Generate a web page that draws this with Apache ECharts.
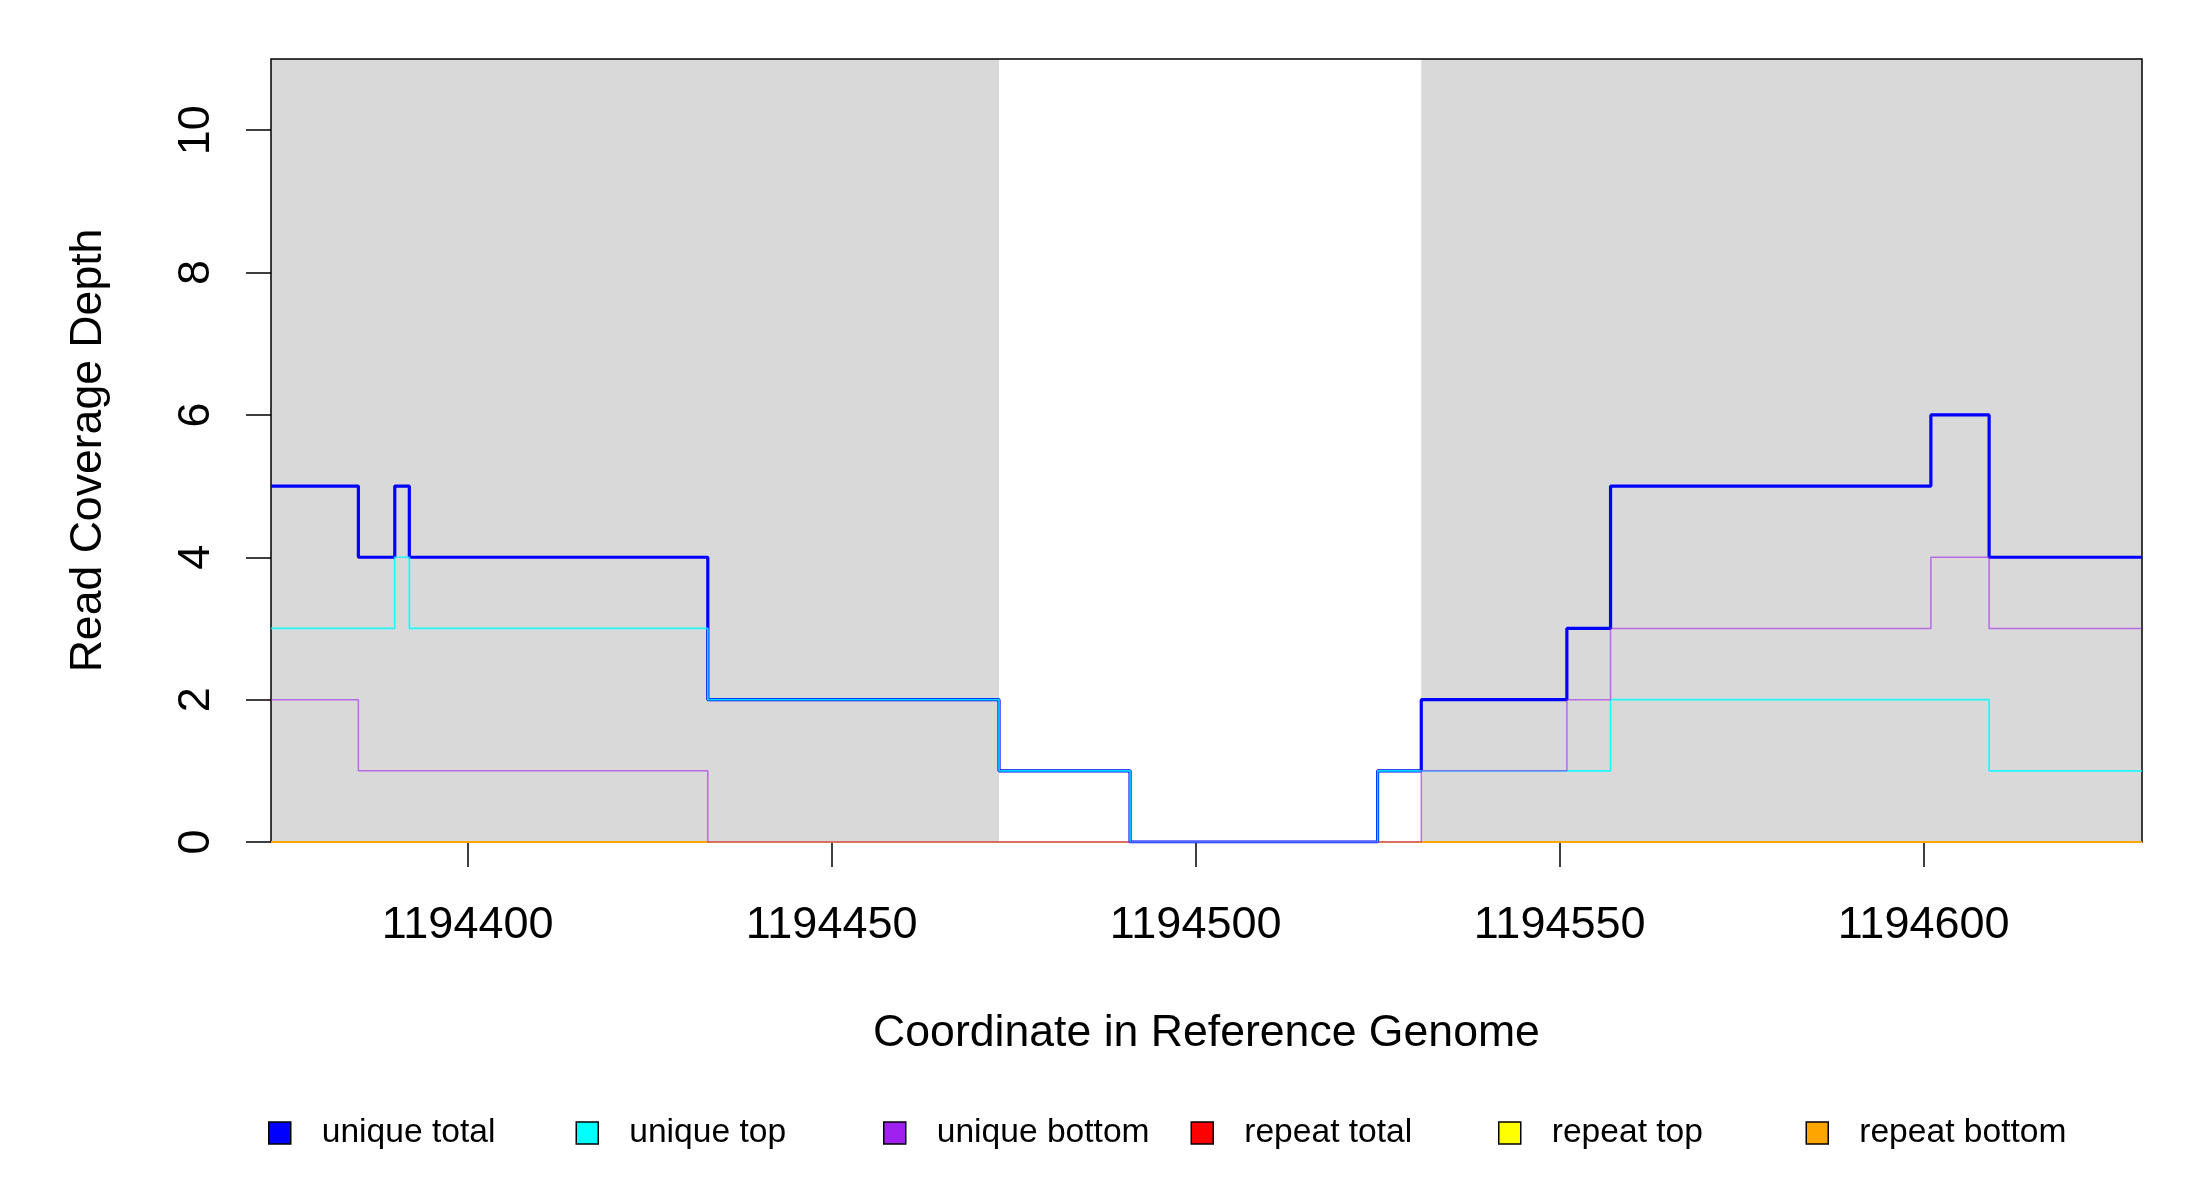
<!DOCTYPE html>
<html>
<head>
<meta charset="utf-8">
<script src="https://cdn.jsdelivr.net/npm/echarts@6/dist/echarts.min.js"></script>
<style>
html,body{margin:0;padding:0;background:#fff;}
#chart{width:2200px;height:1200px;}
</style>
</head>
<body>
<div id="chart"></div>
<script>
// ---- data ----
const xMin = 1194373;
const xMax = 1194630;
const exonStarts = [1194373, 1194531];
const exonEnds = [1194473, 1194630];
// segment start coordinates (last entry = end of last segment)
const breaks = [1194373, 1194385, 1194390, 1194392, 1194433, 1194473, 1194491, 1194525, 1194531, 1194551, 1194557, 1194601, 1194609, 1194630];
const uniqueTotal  = [5, 4, 5, 4, 2, 1, 0, 1, 2, 3, 5, 6, 4];
const uniqueTop    = [3, 3, 4, 3, 2, 1, 0, 1, 1, 1, 2, 2, 1];
const uniqueBottom = [2, 1, 1, 1, 0, 0, 0, 0, 1, 2, 3, 4, 3];
const repeatTotal  = [0, 0, 0, 0, 0, 0, 0, 0, 0, 0, 0, 0, 0];
const repeatTop    = [0, 0, 0, 0, 0, 0, 0, 0, 0, 0, 0, 0, 0];
const repeatBottom = [0, 0, 0, 0, 0, 0, 0, 0, 0, 0, 0, 0, 0];
const xTicks = [1194400, 1194450, 1194500, 1194550, 1194600];
const yTicks = [0, 2, 4, 6, 8, 10];
const seriesNames = ['unique total', 'unique top', 'unique bottom', 'repeat total', 'repeat top', 'repeat bottom'];

function stepData(vals) {
  return breaks.map((b, i) => [b, vals[Math.min(i, vals.length - 1)]]);
}

const FONT = 'Liberation Sans, Arial, sans-serif';
const chart = echarts.init(document.getElementById('chart'), null, {renderer: 'canvas'});

function lineSeries(name, vals, color, width, opacity) {
  return {
    name: name, type: 'line', step: 'end', z: 5,
    data: stepData(vals), symbol: 'none', animation: false,
    itemStyle: {color: color},
    lineStyle: {color: color, width: width, opacity: opacity},
    emphasis: {disabled: true}
  };
}

const legendColors = ['#0000FF', '#00FFFF', '#A020F0', '#FF0000', '#FFFF00', '#FFA500'];

const option = {
  backgroundColor: '#ffffff',
  animation: false,
  grid: {
    left: 271, right: 58, top: 59, bottom: 358,
    show: true, z: 3, backgroundColor: 'transparent',
    borderColor: '#000', borderWidth: 1.5
  },
  xAxis: {
    type: 'value', min: xMin, max: xMax,
    name: 'Coordinate in Reference Genome',
    nameLocation: 'middle', nameGap: 169,
    nameTextStyle: {fontFamily: FONT, fontSize: 44.6, color: '#000'},
    axisLine: {show: false},
    axisTick: {show: true, customValues: xTicks, length: 25, lineStyle: {color: '#000', width: 1.5}},
    axisLabel: {customValues: xTicks, margin: 61, fontFamily: FONT, fontSize: 45, color: '#000',
      formatter: v => String(v)},
    splitLine: {show: false}
  },
  yAxis: {
    type: 'value', min: 0, max: 11,
    name: 'Read Coverage Depth',
    nameLocation: 'middle', nameGap: 160, nameRotate: 90,
    nameTextStyle: {fontFamily: FONT, fontSize: 44.6, color: '#000'},
    axisLine: {show: false},
    axisTick: {show: true, customValues: yTicks, length: 25, lineStyle: {color: '#000', width: 1.5}},
    axisLabel: {customValues: yTicks, rotate: 90, margin: 52, fontFamily: FONT, fontSize: 45, color: '#000',
      formatter: v => String(v)},
    splitLine: {show: false}
  },
  legend: seriesNames.map((n, i) => ({
    data: [n], left: 268 + i * 307.5, top: 1116, icon: 'rect', selectedMode: false,
    itemWidth: 22, itemHeight: 22, padding: 0,
    itemStyle: {borderColor: '#000', borderWidth: 1.5},
    textStyle: {fontFamily: FONT, fontSize: 33.6, color: '#000', padding: [0, 0, 0, 26]}
  })),
  series: [
    {
      name: 'exon', type: 'line', data: [], z: 1, silent: true, symbol: 'none',
      markArea: {
        silent: true,
        itemStyle: {color: '#D9D9D9'},
        data: exonStarts.map((s, i) => [{xAxis: s}, {xAxis: exonEnds[i]}])
      }
    },
    lineSeries('repeat total', repeatTotal, legendColors[3], 1.8, 1),
    lineSeries('repeat top', repeatTop, legendColors[4], 1.8, 1),
    lineSeries('repeat bottom', repeatBottom, legendColors[5], 1.8, 1),
    lineSeries('unique total', uniqueTotal, legendColors[0], 3.2, 1),
    lineSeries('unique top', uniqueTop, legendColors[1], 1.7, 0.85),
    lineSeries('unique bottom', uniqueBottom, legendColors[2], 1.5, 0.6)
  ]
};
chart.setOption(option);
</script>
</body>
</html>
